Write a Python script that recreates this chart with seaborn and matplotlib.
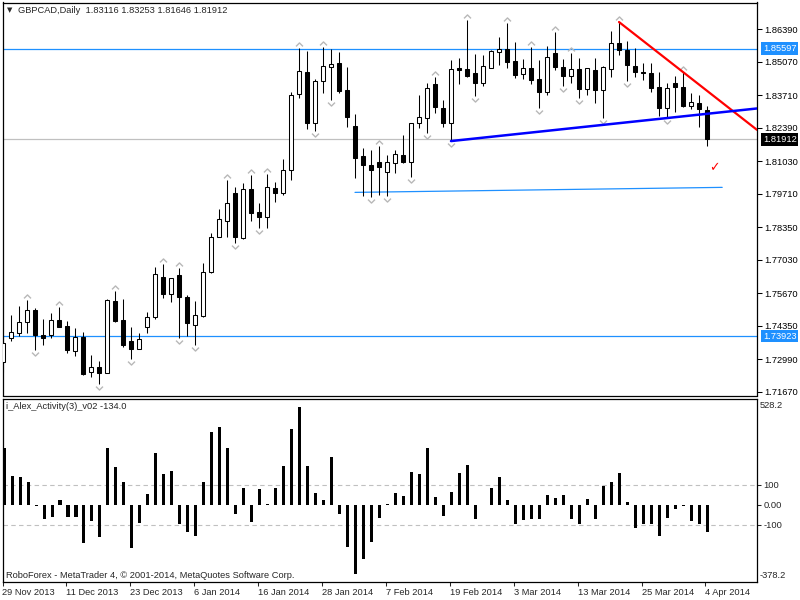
import numpy as np
import pandas as pd
import matplotlib
matplotlib.use("Agg")
import matplotlib.pyplot as plt
import matplotlib.transforms as mtransforms
from matplotlib.path import Path
import seaborn as sns

# ---------------- data ----------------
opens = [1.72870, 1.73844, 1.74047, 1.74494, 1.74981, 1.73966, 1.73966, 1.74575, 1.74331, 1.73316,
         1.73885, 1.72464, 1.72667, 1.72423, 1.75346, 1.74575, 1.73722, 1.73398, 1.74291, 1.74697,
         1.76321, 1.75631, 1.76402, 1.75509, 1.74372, 1.74737, 1.76524, 1.77945, 1.78594, 1.79731,
         1.77904, 1.79894, 1.78960, 1.78757, 1.79934, 1.79731, 1.80665, 1.83751, 1.84644, 1.82573,
         1.84278, 1.84847, 1.85009, 1.83913, 1.82451, 1.81233, 1.80868, 1.80990, 1.80584, 1.80949,
         1.81274, 1.80990, 1.82573, 1.82776, 1.84157, 1.83182, 1.82573, 1.84806, 1.84766, 1.84603,
         1.84197, 1.84806, 1.85456, 1.85578, 1.85090, 1.84563, 1.84806, 1.84360, 1.83832, 1.85415,
         1.84847, 1.84481, 1.84766, 1.83954, 1.84725, 1.83913, 1.84766, 1.85821, 1.85537, 1.84887,
         1.84644, 1.84603, 1.84035, 1.83182, 1.84197, 1.84035, 1.83263, 1.83385, 1.83116]
highs = [1.73966, 1.74778, 1.75143, 1.75387, 1.75062, 1.74616, 1.74859, 1.75103, 1.74534, 1.74250,
         1.74088, 1.73154, 1.72910, 1.75428, 1.75752, 1.75428, 1.74291, 1.74047, 1.74900, 1.76727,
         1.76849, 1.76280, 1.76686, 1.75590, 1.75346, 1.76889, 1.78107, 1.79082, 1.80259, 1.79975,
         1.80137, 1.80462, 1.79325, 1.80503, 1.80178, 1.81112, 1.83832, 1.85618, 1.85496, 1.84360,
         1.85659, 1.85578, 1.85456, 1.84847, 1.82939, 1.81558, 1.81477, 1.81639, 1.81274, 1.81477,
         1.82086, 1.82573, 1.83710, 1.84197, 1.84441, 1.83507, 1.85131, 1.85212, 1.86755, 1.85375,
         1.85334, 1.85537, 1.86065, 1.86633, 1.85862, 1.85172, 1.85659, 1.85131, 1.85699, 1.86268,
         1.85172, 1.85415, 1.85212, 1.84806, 1.85212, 1.84887, 1.86308, 1.86674, 1.85902, 1.85618,
         1.85009, 1.85009, 1.84644, 1.84197, 1.84481, 1.84644, 1.83791, 1.83710, 1.83253]
lows = [1.72464, 1.73722, 1.73925, 1.74047, 1.73357, 1.73560, 1.73844, 1.74291, 1.73235, 1.73113,
        1.72342, 1.72261, 1.71977, 1.72423, 1.74494, 1.73479, 1.72992, 1.73398, 1.74047, 1.74616,
        1.75468, 1.75306, 1.73844, 1.73925, 1.73560, 1.74697, 1.76483, 1.77945, 1.77945, 1.77701,
        1.77864, 1.78594, 1.78310, 1.78310, 1.79366, 1.79650, 1.80259, 1.83588, 1.82330, 1.82248,
        1.83791, 1.83507, 1.83791, 1.82411, 1.80340, 1.79609, 1.79569, 1.79650, 1.79609, 1.80543,
        1.80949, 1.80381, 1.82370, 1.82167, 1.82979, 1.82411, 1.81842, 1.84157, 1.84441, 1.83669,
        1.84075, 1.84806, 1.84928, 1.84806, 1.84400, 1.84360, 1.84157, 1.83182, 1.83710, 1.84725,
        1.84075, 1.84197, 1.83588, 1.83710, 1.83385, 1.82776, 1.84441, 1.85334, 1.84278, 1.84441,
        1.84319, 1.83832, 1.82857, 1.82776, 1.83020, 1.83223, 1.83142, 1.82411, 1.81646]
closes = [1.73641, 1.74088, 1.74494, 1.74981, 1.73966, 1.73844, 1.74575, 1.74291, 1.73357, 1.73885,
          1.72383, 1.72667, 1.72423, 1.75387, 1.74534, 1.73560, 1.73398, 1.73804, 1.74697, 1.76443,
          1.75631, 1.76280, 1.75509, 1.74453, 1.74778, 1.76524, 1.77945, 1.78676, 1.79325, 1.77945,
          1.79894, 1.78919, 1.78757, 1.79975, 1.79731, 1.80665, 1.83710, 1.84684, 1.82573, 1.84278,
          1.84887, 1.84969, 1.83872, 1.82817, 1.81152, 1.80868, 1.80665, 1.80787, 1.80990, 1.81315,
          1.80990, 1.82573, 1.82817, 1.83994, 1.83223, 1.82573, 1.84766, 1.84745, 1.84481, 1.84197,
          1.84887, 1.85496, 1.85578, 1.85050, 1.84522, 1.84806, 1.84319, 1.83832, 1.85253, 1.84847,
          1.84481, 1.84766, 1.83954, 1.84806, 1.83913, 1.84847, 1.85821, 1.85537, 1.84928, 1.84644,
          1.84603, 1.83994, 1.83182, 1.83994, 1.84035, 1.83263, 1.83426, 1.83142, 1.81912]
activity = [287, 145, 142, 115, -5, -70, -60, 25, -60, -60,
            -188, -80, -160, 287, 192, 115, -215, -88, 55, 260,
            155, 170, -93, -133, -153, 115, 365, 390, 287, -43,
            85, -83, 80, 5, 85, 195, 380, 490, 195, 60,
            25, 240, -43, -208, -345, -268, -183, -63, 3, 60,
            45, 165, 155, 285, 40, -53, 65, 160, 200, -68,
            0, 85, 142, 25, -93, -73, -68, -68, 50, 35,
            50, -68, -93, 30, -68, 97, 115, 160, 15, -113,
            -93, -93, -153, -63, -18, -5, -78, -93, -134]

date_bars = [0, 8, 16, 24, 32, 40, 48, 56, 64, 72, 80, 88]
date_labels = ["29 Nov 2013", "11 Dec 2013", "23 Dec 2013", "6 Jan 2014", "16 Jan 2014",
               "28 Jan 2014", "7 Feb 2014", "19 Feb 2014", "3 Mar 2014", "13 Mar 2014",
               "25 Mar 2014", "4 Apr 2014"]
price_ticks = [1.86390, 1.85070, 1.83710, 1.82390, 1.81030, 1.79710,
               1.78350, 1.77030, 1.75670, 1.74350, 1.72990, 1.71670]
up_fractal_bars = [3, 7, 14, 20, 22, 28, 31, 33, 37, 40, 47, 54, 58, 63, 66, 69, 71, 77, 85]
down_fractal_bars = [4, 12, 16, 22, 24, 29, 32, 39, 41, 46, 48, 51, 53, 56, 59, 67, 70, 72, 75, 78, 83]

resistance_level = 1.85597
support_level = 1.73923
bid_price = 1.81912
base_line_bars = [44, 89.9]
base_line_prices = [1.79760, 1.79963]
red_anchor_bars = [77, 85]     # trend line through these highs
blue_anchor_bars = [56, 83]    # trend line through these lows
check_bar, check_price = 88.9, 1.8075

ohlc_title = "GBPCAD,Daily  1.83116 1.83253 1.81646 1.81912"
indicator_title = "i_Alex_Activity(3)_v02 -134.0"
footer = "RoboForex - MetaTrader 4, \u00a9 2001-2014, MetaQuotes Software Corp."
sub_ticks = [100, 0, -100]
sub_tick_labels = ["100", "0.00", "-100"]
sub_range = [-378.2, 528.2]

# ---------------- style ----------------
sns.set_style("white")
plt.rcParams['font.family'] = ['Liberation Sans', 'DejaVu Sans']
FS = 6.7
BLUE = '#1E90FF'
GRAY = '#C0C0C0'

W, H = 800, 600
fig = plt.figure(figsize=(8, 6), dpi=100)
fig.patch.set_facecolor('white')


def rect(l, t, r, b):
    return [l / W, 1 - b / H, (r - l) / W, (b - t) / H]


ax = fig.add_axes(rect(2.5, 2.5, 757, 395.5))
ax2 = fig.add_axes(rect(2.5, 398.5, 757, 581.5))

n = len(opens)
idx = np.arange(n)
o = np.array(opens); h = np.array(highs); l = np.array(lows); c = np.array(closes)
XL = (-0.0625, 94.25)

# ---------------- main panel ----------------
ax.vlines(idx, l, h, color='black', lw=0.75, zorder=2)
bottoms = np.minimum(o, c)
heights = np.maximum(np.abs(c - o), 0.00006)
fc = ['white' if cc > oo else 'black' for oo, cc in zip(o, c)]
ax.bar(idx, heights, bottom=bottoms, width=0.58, color=fc, edgecolor='black',
       linewidth=0.75, zorder=3)

up_path = Path([(-1, -0.55), (0, 0.45), (1, -0.55)], [Path.MOVETO, Path.LINETO, Path.LINETO])
dn_path = Path([(-1, 0.55), (0, -0.45), (1, 0.55)], [Path.MOVETO, Path.LINETO, Path.LINETO])
ub = np.array(up_fractal_bars); db = np.array(down_fractal_bars)
ax.plot(ub, h[ub] + 0.0017, ls='none', marker=up_path, ms=5, mfc='none', mec='#B8B8B8', mew=1.0, zorder=4)
ax.plot(db, l[db] - 0.0017, ls='none', marker=dn_path, ms=5, mfc='none', mec='#B8B8B8', mew=1.0, zorder=4)

ax.axhline(resistance_level, color=BLUE, lw=0.9, zorder=1)
ax.axhline(support_level, color=BLUE, lw=0.9, zorder=1)
ax.axhline(bid_price, color=GRAY, lw=0.9, zorder=1)
ax.plot(base_line_bars, base_line_prices, color=BLUE, lw=0.9, zorder=1)

# trend lines extended to the right edge (rays)
rb0, rb1 = red_anchor_bars
rs = (h[rb1] - h[rb0]) / (rb1 - rb0)
ax.plot([rb0, XL[1]], [h[rb0], h[rb0] + rs * (XL[1] - rb0)], color='#FF0000', lw=1.6, zorder=5)
bb0, bb1 = blue_anchor_bars
bs = (l[bb1] - l[bb0]) / (bb1 - bb0)
ax.plot([bb0, XL[1]], [l[bb0], l[bb0] + bs * (XL[1] - bb0)], color='#0000FF', lw=1.8, zorder=5)

ax.text(check_bar, check_price, "\u2713", color='#FF0000', fontsize=9, ha='center', va='center',
        family=['DejaVu Sans'], zorder=6)

ax.set_xlim(*XL)
ax.set_ylim(1.71516, 1.87466)
ax.set_xticks([])
ax.yaxis.tick_right()
ax.set_yticks(price_ticks)
ax.set_yticklabels([f"{p:.5f}" for p in price_ticks])
ax.tick_params(axis='y', direction='out', length=3.5, width=0.75, pad=2, labelsize=FS, colors='black')

ax.text(0.0095, 0.9796, "\u25bc", transform=ax.transAxes, fontsize=5, ha='center', va='center',
        family=['DejaVu Sans'])
ax.text(0.0205, 0.9796, ohlc_title, transform=ax.transAxes, fontsize=FS, ha='left', va='center')

trans = mtransforms.blended_transform_factory(ax.transAxes, ax.transData)
for val, col in [(resistance_level, BLUE), (bid_price, 'black'), (support_level, BLUE)]:
    ax.text(1.0079, val, f"{val:.5f}", transform=trans, fontsize=FS, color='white',
            ha='left', va='center', clip_on=False, zorder=10,
            bbox=dict(boxstyle='square,pad=0.18', fc=col, ec='none'))

for sp in ax.spines.values():
    sp.set_color('black'); sp.set_linewidth(0.9)

# ---------------- indicator panel ----------------
df = pd.DataFrame({"bar": idx, "activity": activity})
sns.barplot(data=df, x="bar", y="activity", native_scale=True, color='black', saturation=1,
            width=0.38, errorbar=None, linewidth=0, ax=ax2)
ax2.axhline(100, color=GRAY, lw=0.8, ls=(0, (4, 3)), zorder=0)
ax2.axhline(-100, color=GRAY, lw=0.8, ls=(0, (4, 3)), zorder=0)
ax2.set_xlim(*XL)
ax2.set_ylim(-382.5, 532.5)
ax2.set_xlabel(""); ax2.set_ylabel("")
ax2.yaxis.tick_right()
ax2.set_yticks(sub_ticks)
ax2.set_yticklabels(sub_tick_labels)
ax2.tick_params(axis='y', direction='out', length=3, width=0.75, pad=1.5, labelsize=FS)
ax2.set_xticks([b - 0.2 for b in date_bars])
ax2.set_xticklabels(date_labels, ha='left')
ax2.tick_params(axis='x', direction='out', length=3, width=0.75, pad=1.5, labelsize=FS, bottom=True)
tr2 = mtransforms.blended_transform_factory(ax2.transAxes, ax2.transData)
ax2.text(1.004, 500, f"{sub_range[1]:.1f}", transform=tr2, fontsize=FS, ha='left', va='center')
ax2.text(1.004, -350, f"{sub_range[0]:.1f}", transform=tr2, fontsize=FS, ha='left', va='center')
ax2.text(0.0048, 0.958, indicator_title, transform=ax2.transAxes, fontsize=FS, ha='left', va='center')
ax2.text(0.0048, 0.032, footer, transform=ax2.transAxes, fontsize=FS, ha='left', va='center')
for sp in ax2.spines.values():
    sp.set_color('black'); sp.set_linewidth(0.9)

fig.savefig("out.png", dpi=100, facecolor='white')
